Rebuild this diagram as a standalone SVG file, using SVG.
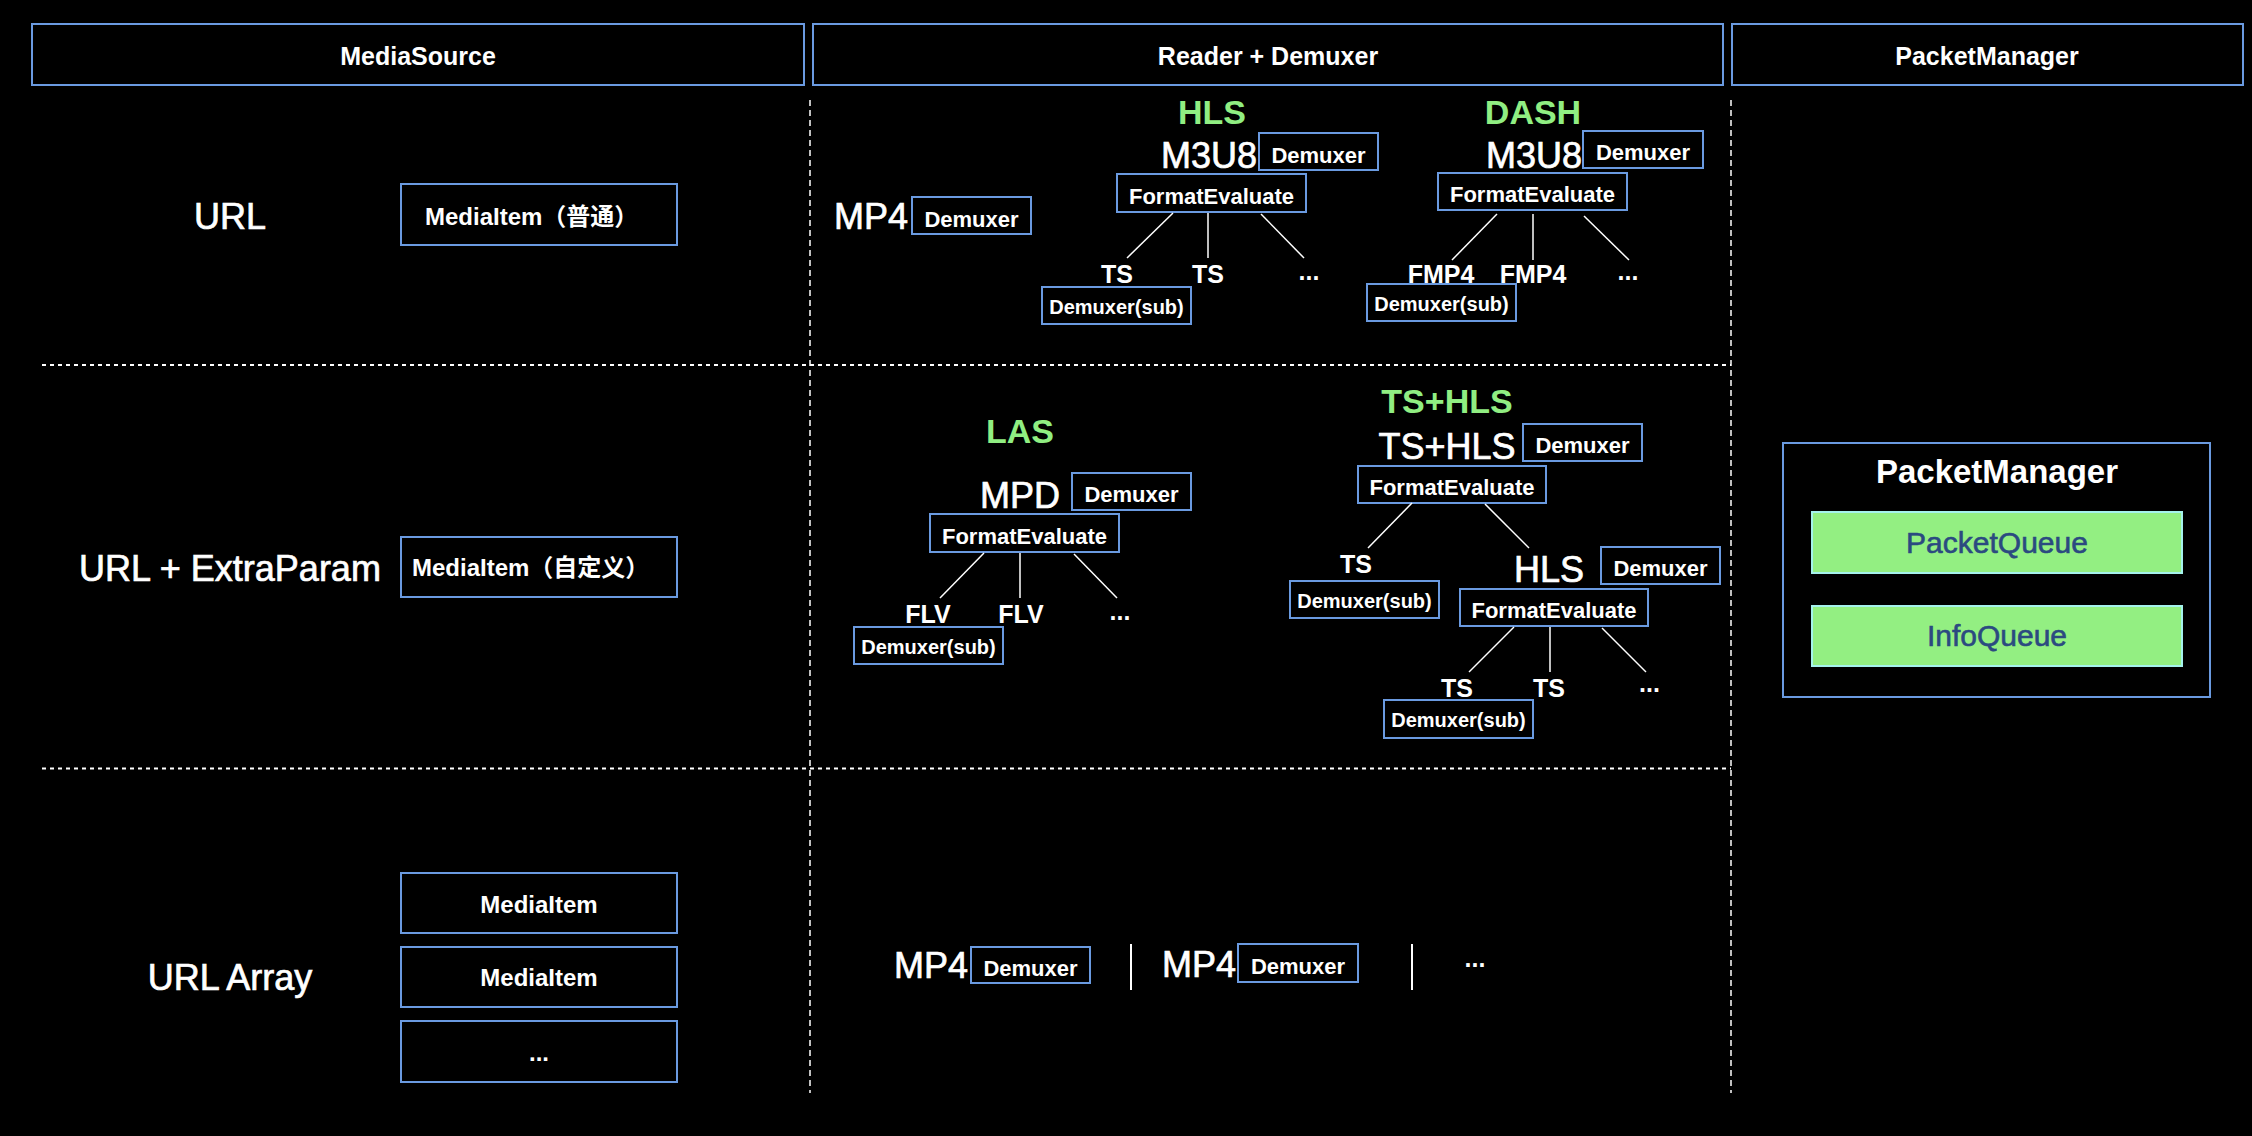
<svg xmlns="http://www.w3.org/2000/svg" width="2252" height="1136" viewBox="0 0 2252 1136">
<style>
.bg{fill:#000}
.box{fill:none;stroke:#6A9AE0;stroke-width:2}
.q{fill:#93EF82;stroke:#A5F2EC;stroke-width:2}
.t{font-family:"Liberation Sans","Noto Sans CJK SC",sans-serif;fill:#fff}
.m{text-anchor:middle}
.hdr{font-size:25px;font-weight:bold}
.big{font-size:36px;stroke:#fff;stroke-width:0.7}
.grn{font-size:34px;font-weight:bold;fill:#90EE82}
.lbl{font-size:22px;font-weight:bold}
.sub{font-size:20px;font-weight:bold}
.leaf{font-size:25px;font-weight:bold}
.item{font-size:24px;font-weight:bold}
.pm{font-size:33px;font-weight:bold}
.qt{font-size:30px;fill:#2B4A80;stroke:#2B4A80;stroke-width:0.6}
.ln{stroke:#fff;stroke-width:1.5;fill:none}
.sep{stroke:#fff;stroke-width:2;fill:none}
.vd{stroke:#fff;stroke-width:1.5;stroke-dasharray:6 4;fill:none}
.hd{stroke:#fff;stroke-width:2;stroke-dasharray:4 4;fill:none}
</style>
<rect class="bg" x="0" y="0" width="2252" height="1136"/>

<g id="grid">
<line class="vd" x1="810" y1="100" x2="810" y2="1093"/>
<line class="vd" x1="1731" y1="100" x2="1731" y2="1093"/>
<line class="hd" x1="42" y1="365" x2="1731" y2="365"/>
<line class="hd" x1="42" y1="768.5" x2="1731" y2="768.5"/>
</g>

<g id="header-mediasource"><rect class="box" x="32" y="24" width="772" height="61"/><text class="t m hdr" x="418" y="65">MediaSource</text></g>
<g id="header-reader"><rect class="box" x="813" y="24" width="910" height="61"/><text class="t m hdr" x="1268" y="65">Reader + Demuxer</text></g>
<g id="header-packetmanager"><rect class="box" x="1732" y="24" width="511" height="61"/><text class="t m hdr" x="1987" y="65">PacketManager</text></g>

<g id="row-url"><text class="t m big" x="230" y="229">URL</text></g>
<g id="row-url-extra"><text class="t m big" x="230" y="581">URL + ExtraParam</text></g>
<g id="row-url-array"><text class="t m big" x="230" y="990">URL Array</text></g>

<g id="mediaitem-normal"><rect class="box" x="401" y="184" width="276" height="61"/><text class="t item" x="425" y="225">MediaItem（普通）</text></g>
<g id="mediaitem-custom"><rect class="box" x="401" y="537" width="276" height="60"/><text class="t item" x="412" y="576">MediaItem（自定义）</text></g>
<g id="mediaitem-1"><rect class="box" x="401" y="873" width="276" height="60"/><text class="t m item" x="539" y="913">MediaItem</text></g>
<g id="mediaitem-2"><rect class="box" x="401" y="947" width="276" height="60"/><text class="t m item" x="539" y="986">MediaItem</text></g>
<g id="mediaitem-more"><rect class="box" x="401" y="1021" width="276" height="61"/><text class="t m item" x="539" y="1061">...</text></g>

<!-- Row 1: MP4 -->
<g id="mp4-url"><text class="t big" x="834" y="229">MP4</text><rect class="box" x="912" y="197" width="119" height="37"/><text class="t m lbl" x="971.5" y="227">Demuxer</text></g>

<!-- HLS -->
<g id="hls"><text class="t m grn" x="1212" y="124">HLS</text><text class="t big" x="1161" y="168">M3U8</text><rect class="box" x="1259" y="133" width="119" height="37"/><text class="t m lbl" x="1318.5" y="163">Demuxer</text></g>
<g id="hls-fe"><rect class="box" x="1117" y="174" width="189" height="38"/><text class="t m lbl" x="1211.5" y="204">FormatEvaluate</text></g>
<g id="hls-ts1"><text class="t m leaf" x="1117" y="283">TS</text><rect class="box" x="1042" y="287" width="149" height="37"/><text class="t m sub" x="1116.5" y="314">Demuxer(sub)</text></g>
<g id="hls-ts2"><text class="t m leaf" x="1208" y="283">TS</text></g>
<g id="hls-more"><text class="t m leaf" x="1309" y="280">...</text></g>

<!-- DASH -->
<g id="dash"><text class="t m grn" x="1533" y="124">DASH</text><text class="t big" x="1486" y="168">M3U8</text><rect class="box" x="1583" y="131" width="120" height="37"/><text class="t m lbl" x="1643" y="160">Demuxer</text></g>
<g id="dash-fe"><rect class="box" x="1438" y="173" width="189" height="37"/><text class="t m lbl" x="1532.5" y="202">FormatEvaluate</text></g>
<g id="dash-fmp4-1"><text class="t m leaf" x="1441" y="283">FMP4</text><rect class="box" x="1367" y="284" width="149" height="37"/><text class="t m sub" x="1441.5" y="311">Demuxer(sub)</text></g>
<g id="dash-fmp4-2"><text class="t m leaf" x="1533" y="283">FMP4</text></g>
<g id="dash-more"><text class="t m leaf" x="1628" y="280">...</text></g>

<!-- LAS -->
<g id="las"><text class="t m grn" x="1020" y="443">LAS</text><text class="t m big" x="1020" y="508">MPD</text><rect class="box" x="1072" y="473" width="119" height="37"/><text class="t m lbl" x="1131.5" y="502">Demuxer</text></g>
<g id="las-fe"><rect class="box" x="930" y="514" width="189" height="38"/><text class="t m lbl" x="1024.5" y="544">FormatEvaluate</text></g>
<g id="las-flv1"><text class="t m leaf" x="928" y="623">FLV</text><rect class="box" x="854" y="627" width="149" height="37"/><text class="t m sub" x="928.5" y="654">Demuxer(sub)</text></g>
<g id="las-flv2"><text class="t m leaf" x="1021" y="623">FLV</text></g>
<g id="las-more"><text class="t m leaf" x="1120" y="620">...</text></g>

<!-- TS+HLS -->
<g id="tshls"><text class="t m grn" x="1447" y="413">TS+HLS</text><text class="t m big" x="1447" y="459">TS+HLS</text><rect class="box" x="1523" y="424" width="119" height="37"/><text class="t m lbl" x="1582.5" y="453">Demuxer</text></g>
<g id="tshls-fe"><rect class="box" x="1358" y="466" width="188" height="37"/><text class="t m lbl" x="1452" y="495">FormatEvaluate</text></g>
<g id="tshls-ts"><text class="t m leaf" x="1356" y="573">TS</text><rect class="box" x="1290" y="581" width="149" height="37"/><text class="t m sub" x="1364.5" y="608">Demuxer(sub)</text></g>
<g id="tshls-hls"><text class="t m big" x="1549" y="582">HLS</text><rect class="box" x="1601" y="547" width="119" height="37"/><text class="t m lbl" x="1660.5" y="576">Demuxer</text></g>
<g id="tshls-hls-fe"><rect class="box" x="1460" y="589" width="188" height="37"/><text class="t m lbl" x="1554" y="618">FormatEvaluate</text></g>
<g id="tshls-ts1"><text class="t m leaf" x="1457" y="697">TS</text><rect class="box" x="1384" y="700" width="149" height="38"/><text class="t m sub" x="1458.5" y="727">Demuxer(sub)</text></g>
<g id="tshls-ts2"><text class="t m leaf" x="1549" y="697">TS</text></g>
<g id="tshls-more"><text class="t m leaf" x="1649.5" y="692">...</text></g>

<!-- Row 3 -->
<g id="mp4-a"><text class="t big" x="894" y="978">MP4</text><rect class="box" x="971" y="947" width="119" height="36"/><text class="t m lbl" x="1030.5" y="976">Demuxer</text></g>
<g id="mp4-b"><text class="t big" x="1162" y="977">MP4</text><rect class="box" x="1238" y="944" width="120" height="38"/><text class="t m lbl" x="1298" y="974">Demuxer</text></g>
<g id="mp4-more"><text class="t m leaf" x="1475" y="967">...</text></g>

<!-- PacketManager -->
<g id="packetmanager"><rect class="box" x="1783" y="443" width="427" height="254"/><text class="t m pm" x="1997" y="483">PacketManager</text></g>
<g id="packetqueue"><rect class="q" x="1812" y="512" width="370" height="61"/><text class="t m qt" x="1997" y="553">PacketQueue</text></g>
<g id="infoqueue"><rect class="q" x="1812" y="606" width="370" height="60"/><text class="t m qt" x="1997" y="646">InfoQueue</text></g>

<g id="connectors">
<line class="ln" x1="1173" y1="213" x2="1127" y2="258"/>
<line class="ln" x1="1208" y1="213" x2="1208" y2="258"/>
<line class="ln" x1="1261" y1="214" x2="1304" y2="258"/>
<line class="ln" x1="1497" y1="214" x2="1452" y2="260"/>
<line class="ln" x1="1533" y1="214" x2="1533" y2="260"/>
<line class="ln" x1="1584" y1="216" x2="1629" y2="260"/>
<line class="ln" x1="984" y1="553" x2="940" y2="598"/>
<line class="ln" x1="1020" y1="553" x2="1020" y2="598"/>
<line class="ln" x1="1074" y1="554" x2="1117" y2="598"/>
<line class="ln" x1="1412" y1="503" x2="1368" y2="548"/>
<line class="ln" x1="1485" y1="504" x2="1529" y2="548"/>
<line class="ln" x1="1514" y1="627" x2="1469" y2="672"/>
<line class="ln" x1="1550" y1="627" x2="1550" y2="672"/>
<line class="ln" x1="1602" y1="628" x2="1646" y2="672"/>
<line class="sep" x1="1131" y1="944" x2="1131" y2="990"/>
<line class="sep" x1="1412" y1="944" x2="1412" y2="990"/>
</g>
</svg>
